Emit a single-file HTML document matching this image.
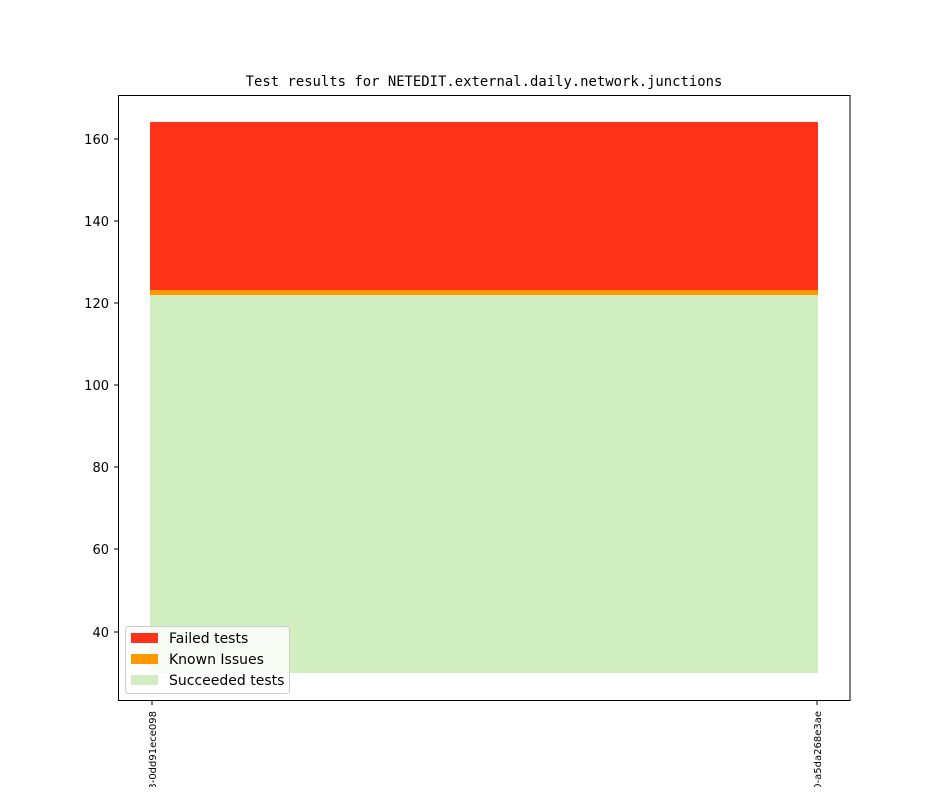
<!DOCTYPE html>
<html><head><meta charset="utf-8"><style>body{margin:0;background:#fff}</style></head>
<body>
<svg width="944" height="787" xmlns="http://www.w3.org/2000/svg" font-family="DejaVu Sans, Liberation Sans, sans-serif">
<rect width="944" height="787" fill="#fff"/>
<text x="484" y="86" text-anchor="middle" font-family="DejaVu Sans Mono, Liberation Mono, monospace" font-size="13.9">Test results for NETEDIT.external.daily.network.junctions</text>
<polygon points="150,673 818,673 818,295 150,295" fill="#d0eec0"/>
<polygon points="150,295 818,295 818,290 150,290" fill="#ff9900"/>
<polygon points="150,290 818,290 818,122 150,122" fill="#ff321a"/>
<rect x="118.5" y="95.5" width="731.5" height="605" fill="none" stroke="#000" stroke-width="1"/>
<g font-size="13" text-anchor="end" fill="#000">
<g stroke="#000"><line x1="114" x2="118" y1="139" y2="139"/><line x1="114" x2="118" y1="221" y2="221"/><line x1="114" x2="118" y1="303" y2="303"/><line x1="114" x2="118" y1="385" y2="385"/><line x1="114" x2="118" y1="467" y2="467"/><line x1="114" x2="118" y1="549" y2="549"/><line x1="114" x2="118" y1="632" y2="632"/>
<line x1="152" x2="152" y1="700" y2="705"/><line x1="817" x2="817" y1="700" y2="705"/></g>
<text x="109" y="144">160</text><text x="109" y="226">140</text><text x="109" y="308">120</text><text x="109" y="390">100</text><text x="109" y="472">80</text><text x="109" y="554">60</text><text x="109" y="637">40</text>
</g>
<g font-size="10" text-anchor="end">
<text transform="translate(156,711) rotate(-90)">a1b2c3-0dd91ece098</text>
<text transform="translate(821,711) rotate(-90)">e4f5a0-a5da268e3ae</text>
</g>
<rect x="125.5" y="626.5" width="164" height="67" rx="3" fill="#fff" fill-opacity="0.8" stroke="#ccc"/>
<rect x="131" y="633" width="27" height="10" fill="#ff321a"/>
<rect x="131" y="654" width="27" height="10" fill="#ff9900"/>
<rect x="131" y="675" width="27" height="10" fill="#d0eec0"/>
<g font-size="14"><text x="169" y="643">Failed tests</text><text x="169" y="664">Known Issues</text><text x="169" y="685">Succeeded tests</text></g>
</svg>
</body></html>
